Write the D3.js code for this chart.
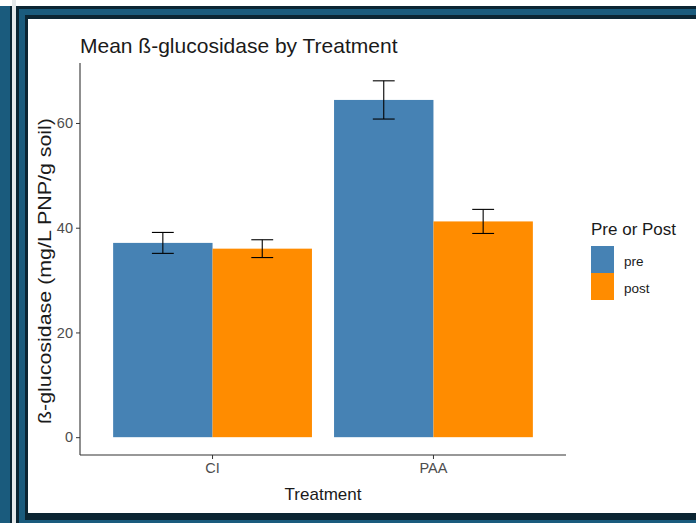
<!DOCTYPE html>
<html>
<head>
<meta charset="utf-8">
<script src="https://cdn.jsdelivr.net/npm/d3@7"></script>
<style>
  html, body { margin: 0; padding: 0; background: #fff; }
  text { font-family: "Liberation Sans", Arial, sans-serif; }
</style>
</head>
<body>
<div id="chart"></div>
<script>
// data
const treatments = ["CI", "PAA"];
const phases = ["pre", "post"];
const preMean = [37.1, 64.4];
const preSe = [2.0, 3.65];
const postMean = [36.0, 41.2];
const postSe = [1.7, 2.3];
const yTicks = [0, 20, 40, 60];

const width = 696, height = 523;
const color = d3.scaleOrdinal().domain(phases).range(["#4682B4", "#FF8C00"]);

const rows = [];
treatments.forEach((t, i) => {
  rows.push({ treatment: t, phase: "pre", mean: preMean[i], se: preSe[i] });
  rows.push({ treatment: t, phase: "post", mean: postMean[i], se: postSe[i] });
});

const svg = d3.select("#chart").append("svg")
  .attr("width", width)
  .attr("height", height);

// frame around the panel (screenshot border)
svg.append("rect").attr("x", 0).attr("y", 6).attr("width", 12).attr("height", height - 6).attr("fill", "#0b2533");
svg.append("rect").attr("x", 0).attr("y", 6).attr("width", 10).attr("height", height - 6).attr("fill", "#1a5b7d");
svg.append("rect").attr("x", 12).attr("y", 0).attr("width", 4).attr("height", height).attr("fill", "#e4e8ea");
svg.append("rect").attr("x", 16).attr("y", 6).attr("width", width - 16).attr("height", height - 6).attr("fill", "#0b2533");
svg.append("rect").attr("x", 19).attr("y", 9).attr("width", width - 19).attr("height", height - 9).attr("fill", "#1a5b7d");
svg.append("rect").attr("x", 25).attr("y", 15).attr("width", width - 25).attr("height", 505).attr("fill", "#0b2533");
svg.append("rect").attr("x", 28).attr("y", 19).attr("width", width - 28).attr("height", 494).attr("fill", "#ffffff");

const mLeft = 80, mRight = 566, mTop = 63, mBottom = 455;

const hi = d3.max(rows, d => d.mean + d.se);
const pad = hi * 0.05;
const y = d3.scaleLinear().domain([-pad, hi + pad]).range([mBottom, mTop]);

const x = d3.scaleBand().domain(treatments).range([mLeft, mRight])
  .paddingInner(0.1).paddingOuter(0.15);
const xSub = d3.scaleBand().domain(phases).range([0, x.bandwidth()]).padding(0);

// bars
svg.append("g").selectAll("rect")
  .data(rows)
  .join("rect")
  .attr("x", d => x(d.treatment) + xSub(d.phase))
  .attr("y", d => y(d.mean))
  .attr("width", xSub.bandwidth())
  .attr("height", d => y(0) - y(d.mean))
  .attr("fill", d => color(d.phase));

// error bars
const capW = xSub.bandwidth() * 0.22;
const eb = svg.append("g").attr("stroke", "#000").attr("stroke-width", 1.1).attr("fill", "none");
rows.forEach(d => {
  const cx = x(d.treatment) + xSub(d.phase) + xSub.bandwidth() / 2;
  eb.append("line").attr("x1", cx).attr("x2", cx).attr("y1", y(d.mean - d.se)).attr("y2", y(d.mean + d.se));
  eb.append("line").attr("x1", cx - capW / 2).attr("x2", cx + capW / 2).attr("y1", y(d.mean + d.se)).attr("y2", y(d.mean + d.se));
  eb.append("line").attr("x1", cx - capW / 2).attr("x2", cx + capW / 2).attr("y1", y(d.mean - d.se)).attr("y2", y(d.mean - d.se));
});

// axes
const yAxis = svg.append("g")
  .attr("transform", `translate(${mLeft},0)`)
  .call(d3.axisLeft(y).tickValues(yTicks).tickSize(4).tickPadding(3).tickSizeOuter(0));
yAxis.select(".domain").attr("d", `M0,${mTop}V${mBottom}`);

const xAxis = svg.append("g")
  .attr("transform", `translate(0,${mBottom})`)
  .call(d3.axisBottom(x).tickSize(4).tickPadding(4).tickSizeOuter(0));
xAxis.select(".domain").attr("d", `M${mLeft},0H${mRight}`);

svg.selectAll(".domain").attr("stroke", "#333").attr("stroke-width", 1.1);
svg.selectAll(".tick line").attr("stroke", "#333");
svg.selectAll(".tick text")
  .attr("fill", "#4d4d4d")
  .style("font-size", "14.5px")
  .style("font-family", "'Liberation Sans', Arial, sans-serif");

// titles
svg.append("text")
  .attr("x", 80).attr("y", 53)
  .attr("fill", "#1a1a1a")
  .style("font-size", "21px")
  .text("Mean ß-glucosidase by Treatment");

svg.append("text")
  .attr("x", (mLeft + mRight) / 2).attr("y", 500)
  .attr("text-anchor", "middle")
  .attr("fill", "#1a1a1a")
  .style("font-size", "17px")
  .text("Treatment");

svg.append("text")
  .attr("transform", "translate(51,271) rotate(-90)")
  .attr("text-anchor", "middle")
  .attr("fill", "#1a1a1a")
  .style("font-size", "18px")
  .attr("textLength", 306)
  .attr("lengthAdjust", "spacingAndGlyphs")
  .text("ß-glucosidase (mg/L PNP/g soil)");

// legend
const legend = svg.append("g").attr("transform", "translate(591,0)");
legend.append("text")
  .attr("x", 0).attr("y", 235)
  .attr("fill", "#1a1a1a")
  .style("font-size", "17px")
  .text("Pre or Post");

const keyH = 27, keyW = 23;
phases.forEach((p, i) => {
  legend.append("rect")
    .attr("x", 0).attr("y", 246 + i * keyH)
    .attr("width", keyW).attr("height", keyH)
    .attr("fill", color(p));
  legend.append("text")
    .attr("x", keyW + 10).attr("y", 246 + i * keyH + keyH / 2 + 6)
    .attr("fill", "#1a1a1a")
    .style("font-size", "13.5px")
    .text(p);
});
</script>
</body>
</html>
